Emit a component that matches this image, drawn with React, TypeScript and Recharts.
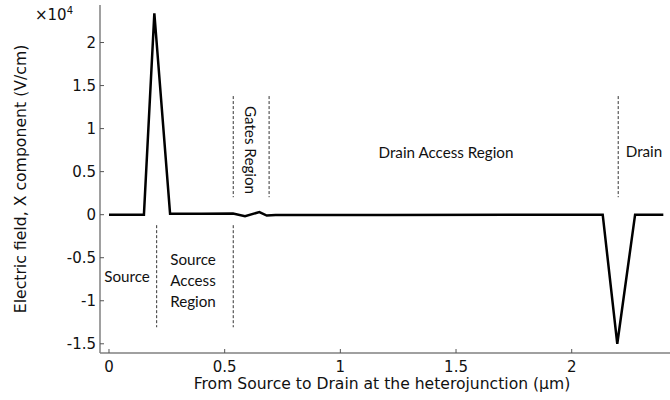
import { LineChart, Line, XAxis, YAxis, ReferenceLine } from "recharts";

// Electric field along the channel (units of 1e4 V/cm)
const positionUm = [0, 0.151, 0.196, 0.264, 0.4, 0.536, 0.588, 0.65, 0.682, 0.72, 1.2, 2.134, 2.197, 2.274, 2.396];
const fieldX = [0, 0, 2.34, 0.012, 0.01, 0.014, -0.017, 0.03, -0.01, -0.004, -0.003, 0, -1.5, 0, 0];

const xTicks = [0, 0.5, 1, 1.5, 2];
const yTicks = [-1.5, -1, -0.5, 0, 0.5, 1, 1.5, 2];

// region boundaries: lower row and upper row of dashed markers
const lowerBounds = [0.206, 0.537];
const upperBounds = [0.537, 0.692, 2.201];

const X_DOMAIN: [number, number] = [-0.0389, 2.4335];
const Y_DOMAIN: [number, number] = [-1.607, 2.436];

const data = positionUm.map((x, i) => ({ x, e: fieldX[i] }));

const AXIS = "#808080";
const TICK_FONT = "DejaVu Sans";
const NOTE_FONT = "Lato";

const BottomTick = (props: any) => {
  const { x, y, payload } = props;
  return (
    <g>
      <line x1={x} y1={y} x2={x} y2={y - 4} stroke="#555" strokeWidth={1} />
      <text x={x} y={y + 19} textAnchor="middle" fontFamily={TICK_FONT} fontSize={15} fill="#111">
        {payload.value}
      </text>
    </g>
  );
};

const TopTick = (props: any) => {
  const { x, y } = props;
  return <line x1={x} y1={y} x2={x} y2={y + 4} stroke="#555" strokeWidth={1} />;
};

const LeftTick = (props: any) => {
  const { x, y, payload } = props;
  return (
    <g>
      <line x1={x} y1={y} x2={x + 4} y2={y} stroke="#555" strokeWidth={1} />
      <text x={x - 4} y={y + 5} textAnchor="end" fontFamily={TICK_FONT} fontSize={15} fill="#111">
        {payload.value}
      </text>
    </g>
  );
};

const RightTick = (props: any) => {
  const { x, y } = props;
  return <line x1={x} y1={y} x2={x - 4} y2={y} stroke="#555" strokeWidth={1} />;
};

const dash = { stroke: "#333", strokeWidth: 1, strokeDasharray: "3 2" };

export default function App() {
  return (
    <div style={{ position: "absolute", left: 0, top: 0, width: 670, height: 400, overflow: "hidden", background: "#fff" }}>
      <LineChart width={676} height={400} data={data} margin={{ top: 5, right: 4, left: 0, bottom: 0 }}>
        <XAxis
          type="number"
          dataKey="x"
          domain={X_DOMAIN}
          allowDataOverflow
          ticks={xTicks}
          interval={0}
          height={47}
          tickSize={0}
          tickMargin={0}
          tickLine={false}
          tick={<BottomTick />}
          axisLine={{ stroke: AXIS, strokeWidth: 1.5 }}
        />
        <XAxis
          xAxisId="top"
          orientation="top"
          type="number"
          dataKey="x"
          domain={X_DOMAIN}
          allowDataOverflow
          ticks={xTicks}
          interval={0}
          height={0}
          tickSize={0}
          tickMargin={0}
          tickLine={false}
          tick={<TopTick />}
          axisLine={{ stroke: AXIS, strokeWidth: 1.5 }}
        />
        <YAxis
          type="number"
          domain={Y_DOMAIN}
          allowDataOverflow
          ticks={yTicks}
          interval={0}
          width={100}
          tickSize={0}
          tickMargin={0}
          tickLine={false}
          tick={<LeftTick />}
          axisLine={{ stroke: AXIS, strokeWidth: 1.5 }}
        />
        <YAxis
          yAxisId="right"
          orientation="right"
          type="number"
          domain={Y_DOMAIN}
          allowDataOverflow
          ticks={yTicks}
          interval={0}
          width={0}
          tickSize={0}
          tickMargin={0}
          tickLine={false}
          tick={<RightTick />}
          axisLine={{ stroke: AXIS, strokeWidth: 1.5 }}
        />
        {lowerBounds.map((b) => (
          <ReferenceLine key={"lo" + b} segment={[{ x: b, y: -0.122 }, { x: b, y: -1.308 }]} {...dash} />
        ))}
        {upperBounds.map((b) => (
          <ReferenceLine key={"up" + b} segment={[{ x: b, y: 1.378 }, { x: b, y: 0.203 }]} {...dash} />
        ))}
        <Line
          type="linear"
          dataKey="e"
          stroke="#000"
          strokeWidth={2.5}
          dot={false}
          isAnimationActive={false}
        />
      </LineChart>
      <svg width={670} height={400} style={{ position: "absolute", left: 0, top: 0, pointerEvents: "none" }}>
        <text x={35} y={19.5} fontFamily={TICK_FONT} fontSize={15} fill="#111">
          ×10
          <tspan dy={-6} fontSize={10}>4</tspan>
        </text>
        <text
          transform="translate(26,179) rotate(-90)"
          textAnchor="middle"
          fontFamily={TICK_FONT}
          fontSize={15.7}
          fill="#111"
        >
          Electric field, X component (V/cm)
        </text>
        <text x={382} y={389} textAnchor="middle" fontFamily={TICK_FONT} fontSize={15.6} fill="#111">
          From Source to Drain at the heterojunction (μm)
        </text>
        <g fontFamily={NOTE_FONT} fontSize={15.2} fill="#111" textAnchor="middle">
          <text x={127} y={282}>Source</text>
          <text x={193} y={265}>Source</text>
          <text x={193} y={286}>Access</text>
          <text x={193} y={307}>Region</text>
          <text transform="translate(245,150) rotate(90)">Gates Region</text>
          <text x={446} y={158}>Drain Access Region</text>
          <text x={644} y={157}>Drain</text>
        </g>
      </svg>
    </div>
  );
}
